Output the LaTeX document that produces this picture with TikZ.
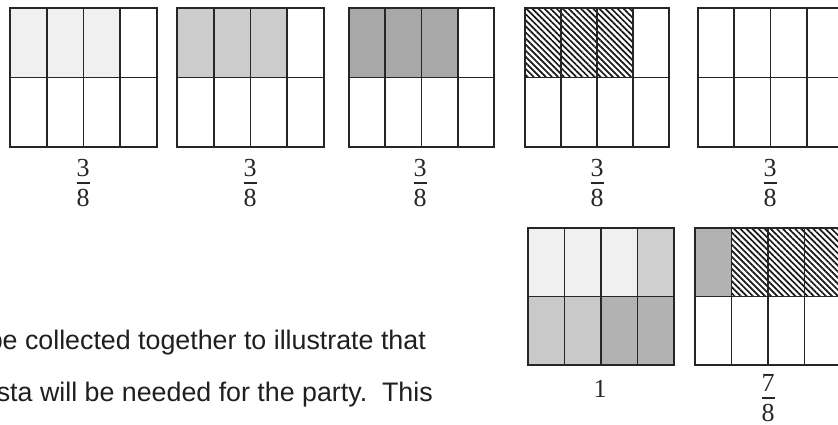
\documentclass[tikz,border=0pt]{standalone}
\usepackage{fontspec}
\newfontfamily\arialfont{Liberation Sans}
\newfontfamily\numfont{Liberation Serif}
\usetikzlibrary{patterns.meta}
\tikzset{
  gridline/.style={draw=black!85, line width=1.7pt},
  vlight/.style={fill=black!6},
  light/.style={fill=black!20},
  hatch/.style={pattern={Lines[angle=-45,distance=4.3pt,line width=1.7pt]}, pattern color=black!90},
  fracnum/.style={font=\numfont\fontsize{26}{26}\selectfont, inner sep=0pt, text=black!85},
  fracbar/.style={line width=1.4pt, draw=black!85},
  bodytext/.style={font=\arialfont\fontsize{26.8}{26.8}\selectfont, inner sep=0pt, text=black!88},
}
% grid outline: left x, top y, width, height
\newcommand{\fgridlines}[4]{%
  \draw[gridline] (#1,#2) rectangle ++(#3,#4);
  \foreach \i in {1,2,3} \draw[gridline] ({#1+\i*#3/4},#2) -- ++(0,#4);
  \draw[gridline] (#1,{#2+#4/2}) -- ++(#3,0);
}
% one cell: left x, top y, width, height, column, row, style
\newcommand{\fcell}[7]{%
  \path[#7] ({#1+#5*#3/4},{#2+#6*#4/2}) rectangle ++({#3/4},{#4/2});
}
% fraction label: name, x, numerator centre y, numerator, denominator
\newcommand{\fraclabel}[5]{%
  \node[fracnum] (#1n) at (#2,#3) {#4};
  \node[fracnum] (#1d) at (#2,#3+30) {#5};
  \coordinate (#1l) at ({#2-6.5},{#3+15});
  \coordinate (#1r) at ({#2+6.5},{#3+15});
  \draw[fracbar] (#1l) -- (#1r);
}
\begin{document}
\begin{tikzpicture}[x=1pt,y=-1pt]
\useasboundingbox (0,0) rectangle (838,425);
\clip (0,0) rectangle (838,425);
\fill[white] (0,0) rectangle (838,425);

% grid 1
\foreach \c in {0,1,2} {\fcell{10}{8}{147}{139}{\c}{0}{vlight}}
\fgridlines{10}{8}{147}{139}
\fraclabel{fa}{83}{168}{3}{8}

% grid 2
\foreach \c in {0,1,2} {\fcell{177}{8}{147}{139}{\c}{0}{light}}
\fgridlines{177}{8}{147}{139}
\fraclabel{fb}{250}{168}{3}{8}

% grid 3
\foreach \c in {0,1,2} {\fcell{349}{8}{145}{139}{\c}{0}{fill=black!34}}
\fgridlines{349}{8}{145}{139}
\fraclabel{fc}{420}{168}{3}{8}

% grid 4
\foreach \c in {0,1,2} {\fcell{525}{8}{144}{139}{\c}{0}{hatch}}
\fgridlines{525}{8}{144}{139}
\fraclabel{fd}{597}{168}{3}{8}

% grid 5
\fgridlines{698}{8}{145}{139}
\fraclabel{fe}{770}{168}{3}{8}

% grid 6
\foreach \c in {0,1,2} {\fcell{528}{228}{146}{137}{\c}{0}{vlight}}
\fcell{528}{228}{146}{137}{3}{0}{fill=black!19}
\fcell{528}{228}{146}{137}{0}{1}{fill=black!21}
\fcell{528}{228}{146}{137}{1}{1}{fill=black!21}
\fcell{528}{228}{146}{137}{2}{1}{fill=black!30}
\fcell{528}{228}{146}{137}{3}{1}{fill=black!30}
\fgridlines{528}{228}{146}{137}
\node[fracnum] (one) at (600,389) {1};

% grid 7
\fcell{695}{228}{146}{137}{0}{0}{fill=black!30}
\foreach \c in {1,2,3} {\fcell{695}{228}{146}{137}{\c}{0}{hatch}}
\fgridlines{695}{228}{146}{137}
\fraclabel{fg}{768}{383}{7}{8}

% body text
\node[bodytext, anchor=base east] (lineone) at (426,349) {be collected together to illustrate that};
\node[bodytext, anchor=base east] (linetwo) at (433,401) {sta will be needed for the party.\ \ This};
\end{tikzpicture}
\end{document}
